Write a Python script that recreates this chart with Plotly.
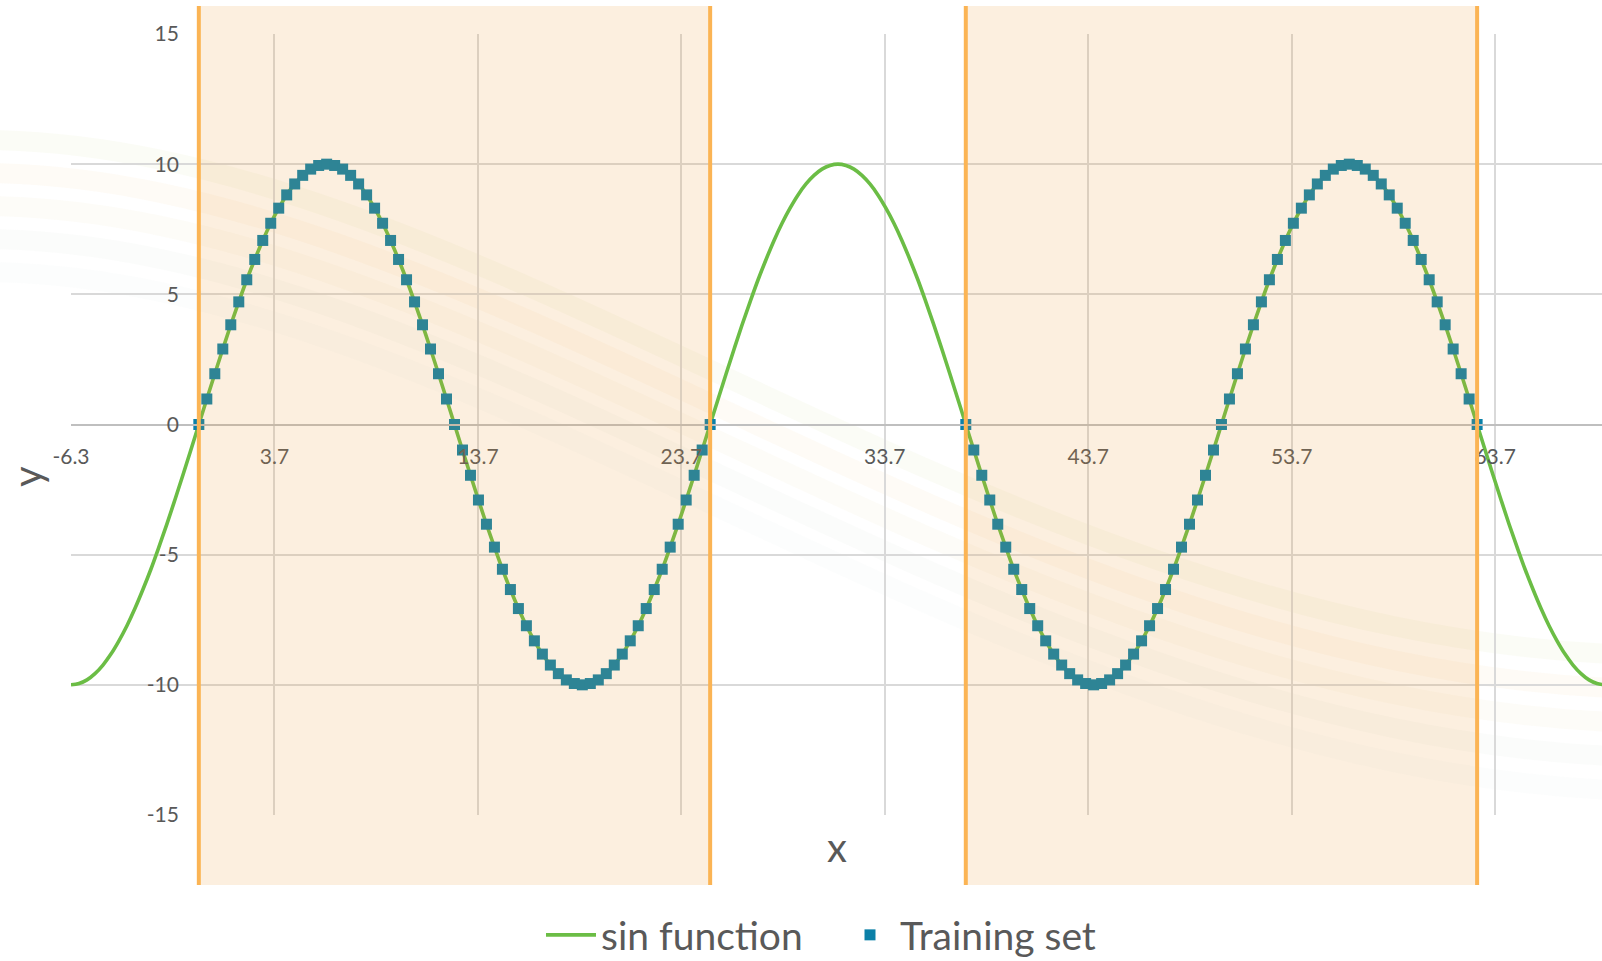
import numpy as np
import plotly.graph_objects as go

# ---------------------------------------------------------------
# Data: y = 10·sin(x/4), sampled every π/8 along x
# ---------------------------------------------------------------
sample_step = 0.3927          # π/8
curve_start = -6.2832          # -2π

# training windows (x start of each sampled window)
band_a_x0 = 0.0
band_b_x0 = 37.6991

band_a_y = [0.00, 0.98, 1.95, 2.90, 3.83, 4.71, 5.56, 6.34, 7.07, 7.73, 8.31, 8.82, 9.24, 9.57, 9.81, 9.95, 10.00,
            9.95, 9.81, 9.57, 9.24, 8.82, 8.31, 7.73, 7.07, 6.34, 5.56, 4.71, 3.83, 2.90, 1.95, 0.98, 0.00,
            -0.98, -1.95, -2.90, -3.83, -4.71, -5.56, -6.34, -7.07, -7.73, -8.31, -8.82, -9.24, -9.57, -9.81, -9.95, -10.00,
            -9.95, -9.81, -9.57, -9.24, -8.82, -8.31, -7.73, -7.07, -6.34, -5.56, -4.71, -3.83, -2.90, -1.95, -0.98, 0.00]

band_b_y = [0.00, -0.98, -1.95, -2.90, -3.83, -4.71, -5.56, -6.34, -7.07, -7.73, -8.31, -8.82, -9.24, -9.57, -9.81, -9.95, -10.00,
            -9.95, -9.81, -9.57, -9.24, -8.82, -8.31, -7.73, -7.07, -6.34, -5.56, -4.71, -3.83, -2.90, -1.95, -0.98, 0.00,
            0.98, 1.95, 2.90, 3.83, 4.71, 5.56, 6.34, 7.07, 7.73, 8.31, 8.82, 9.24, 9.57, 9.81, 9.95, 10.00,
            9.95, 9.81, 9.57, 9.24, 8.82, 8.31, 7.73, 7.07, 6.34, 5.56, 4.71, 3.83, 2.90, 1.95, 0.98, 0.00]

# parts of the curve outside the training windows
left_y = [-10.00, -9.95, -9.81, -9.57, -9.24, -8.82, -8.31, -7.73, -7.07, -6.34, -5.56, -4.71, -3.83, -2.90, -1.95, -0.98, 0.00]
gap_y = [0.00, 0.98, 1.95, 2.90, 3.83, 4.71, 5.56, 6.34, 7.07, 7.73, 8.31, 8.82, 9.24, 9.57, 9.81, 9.95, 10.00,
         9.95, 9.81, 9.57, 9.24, 8.82, 8.31, 7.73, 7.07, 6.34, 5.56, 4.71, 3.83, 2.90, 1.95, 0.98, 0.00]
right_y = [0.00, -0.98, -1.95, -2.90, -3.83, -4.71, -5.56, -6.34, -7.07, -7.73, -8.31, -8.82, -9.24, -9.57, -9.81, -9.95, -10.00]

# shaded training windows (x from, x to)
train_windows = [(0.0, 25.1327), (37.6991, 62.8319)]

x_tick_vals = [-6.283, 3.717, 13.717, 23.717, 33.717, 43.717, 53.717, 63.717]
x_tick_text = ["-6.3", "3.7", "13.7", "23.7", "33.7", "43.7", "53.7", "63.7"]
y_tick_vals = [-15, -10, -5, 0, 5, 10, 15]
y_tick_text = ["-15", "-10", "-5", "0", "5", "10", "15"]

# ---------------------------------------------------------------
# Assemble series
# ---------------------------------------------------------------
line_y = left_y[:-1] + band_a_y + gap_y[1:-1] + band_b_y + right_y[1:]
line_x = curve_start + sample_step * np.arange(len(line_y))

train_x = np.concatenate([band_a_x0 + sample_step * np.arange(len(band_a_y)),
                          band_b_x0 + sample_step * np.arange(len(band_b_y))])
train_y = band_a_y + band_b_y

X_MIN, X_MAX = -6.2832, 68.97
Y_MIN, Y_MAX = -15, 15

TEXT = "#595959"
FONT = "Lato, Carlito, 'Open Sans', sans-serif"

fig = go.Figure()
fig.add_trace(go.Scatter(
    x=line_x, y=line_y, mode="lines", name="sin function",
    line=dict(color="#6bbd45", width=3.6, shape="spline"),
))
fig.add_trace(go.Scatter(
    x=train_x, y=train_y, mode="markers", name="Training set",
    marker=dict(symbol="square", size=11, color="#0b80a8"),
))

# ---------------------------------------------------------------
# Decorative faint swooshes in the background (paper-pixel helper)
# ---------------------------------------------------------------
PL, PR, PT, PB = 71, 1602, 34, 815


def px(xp, yp):
    return (xp - PL) / (PR - PL), (PB - yp) / (PB - PT)


def bez(p0, p1, p2, p3):
    pts = [px(*p) for p in (p0, p1, p2, p3)]
    return "M {:.4f},{:.4f} C {:.4f},{:.4f} {:.4f},{:.4f} {:.4f},{:.4f}".format(
        pts[0][0], pts[0][1], pts[1][0], pts[1][1], pts[2][0], pts[2][1], pts[3][0], pts[3][1])


shapes = []
swoosh_cols = ["rgba(200,215,130,0.07)", "rgba(235,200,120,0.065)",
               "rgba(215,210,140,0.06)", "rgba(190,210,195,0.06)", "rgba(200,215,215,0.05)"]
for i, col in enumerate(swoosh_cols):
    off_l = i * 33
    off_r = i * 34
    shapes.append(dict(
        type="path", xref="paper", yref="paper", layer="below",
        path=bez((-20, 140 + off_l), (480, 140 + off_l), (1000, 640 + off_r), (1640, 655 + off_r)),
        line=dict(color=col, width=20),
    ))

# training windows: translucent fill above the data, with bold edges
BAND_TOP = (PB - 6) / (PB - PT)
BAND_BOT = (PB - 885) / (PB - PT)
for x0, x1 in train_windows:
    shapes.append(dict(type="rect", xref="x", yref="paper", x0=x0, x1=x1,
                       y0=BAND_BOT, y1=BAND_TOP, layer="above",
                       fillcolor="rgba(236,152,50,0.156)", line=dict(width=0)))
    for xe in (x0, x1):
        shapes.append(dict(type="line", xref="x", yref="paper", x0=xe, x1=xe,
                           y0=BAND_BOT, y1=BAND_TOP, layer="above",
                           line=dict(color="#fbb454", width=4)))

y_axis_pos = (0 - X_MIN) / (X_MAX - X_MIN)

fig.update_layout(
    width=1602, height=961,
    margin=dict(l=PL, r=1602 - PR, t=PT, b=961 - PB, autoexpand=False),
    paper_bgcolor="white", plot_bgcolor="rgba(0,0,0,0)",
    font=dict(family=FONT, color=TEXT),
    shapes=shapes,
    showlegend=True,
    legend=dict(orientation="h", x=(541 - PL) / (PR - PL), xanchor="left",
                y=(PB - 935) / (PB - PT), yanchor="middle",
                font=dict(size=39, color=TEXT, family=FONT), itemwidth=50,
                entrywidth=234, entrywidthmode="pixels",
                bgcolor="rgba(0,0,0,0)"),
    annotations=[
        dict(text="x", xref="paper", yref="paper", x=(837 - PL) / (PR - PL), y=(PB - 847) / (PB - PT),
             showarrow=False, xanchor="center", yanchor="middle", font=dict(size=40, color=TEXT, family=FONT)),
        dict(text="y", xref="paper", yref="paper", x=(27 - PL) / (PR - PL), y=(PB - 477) / (PB - PT),
             showarrow=False, xanchor="center", yanchor="middle", textangle=-90,
             font=dict(size=40, color=TEXT, family=FONT)),
    ],
)
fig.update_xaxes(
    range=[X_MIN, X_MAX], tickvals=x_tick_vals, ticktext=x_tick_text,
    showgrid=True, gridcolor="#d9d9d9", gridwidth=2, zeroline=False,
    showline=True, linecolor="#bfbfbf", linewidth=2,
    anchor="free", position=0.5, ticks="", ticklabelstandoff=13,
    tickfont=dict(size=21, color=TEXT, family=FONT),
)
fig.update_yaxes(
    range=[Y_MIN, Y_MAX], tickvals=y_tick_vals, ticktext=y_tick_text,
    showgrid=True, gridcolor="#d9d9d9", gridwidth=2, zeroline=False, showline=False,
    anchor="free", position=y_axis_pos, ticks="", ticklabelstandoff=20,
    tickfont=dict(size=21, color=TEXT, family=FONT),
)

fig.write_html("out.html")
